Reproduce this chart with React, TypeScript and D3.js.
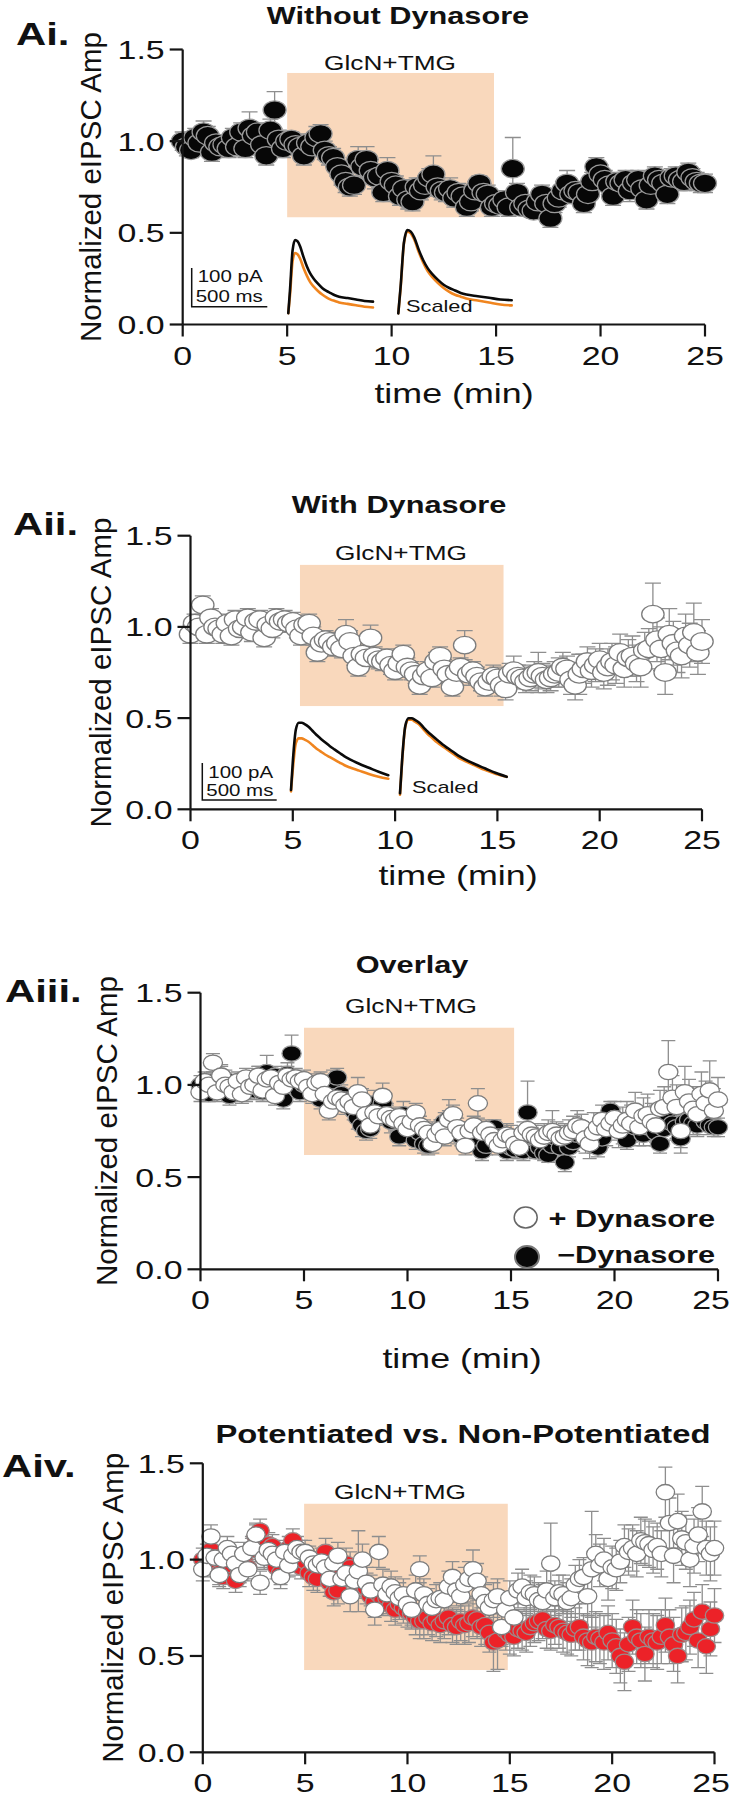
import React from 'react';
import * as d3 from 'd3';

// ---------------- DATA ----------------
// sample times (min), one sample every 0.2 min from 0 to 25
const times: number[] = d3.range(126).map((i) => +(i * 0.2).toFixed(1));

const xTicks = [0, 5, 10, 15, 20, 25];
const yTicks = [0, 0.5, 1.0, 1.5];

// Without Dynasore (black)
const withoutVals = [
  1.00, 0.97, 0.95, 1.02, 0.99, 1.05, 1.03, 0.94, 0.99, 0.97,
  0.98, 0.96, 1.02, 0.97, 1.05, 0.96, 1.07, 1.03, 1.05, 0.98,
  0.92, 1.06, 1.17, 1.01, 0.96, 1.00, 1.01, 0.98, 0.97, 0.92,
  0.99, 0.97, 1.02, 1.04, 0.95, 0.92, 0.91, 0.86, 0.82, 0.78,
  0.75, 0.76, 0.90, 0.86, 0.90, 0.84, 0.80, 0.81, 0.72, 0.84,
  0.78, 0.76, 0.70, 0.74, 0.68, 0.67, 0.75, 0.73, 0.76, 0.80,
  0.82, 0.75, 0.73, 0.72, 0.74, 0.69, 0.72, 0.70, 0.64, 0.67,
  0.73, 0.77, 0.72, 0.71, 0.64, 0.66, 0.65, 0.68, 0.64, 0.85,
  0.72, 0.64, 0.66, 0.63, 0.62, 0.67, 0.71, 0.66, 0.58, 0.66,
  0.69, 0.73, 0.77, 0.71, 0.73, 0.72, 0.66, 0.71, 0.78, 0.86,
  0.82, 0.79, 0.76, 0.70, 0.78, 0.77, 0.79, 0.73, 0.77, 0.79,
  0.74, 0.68, 0.76, 0.81, 0.79, 0.77, 0.71, 0.80, 0.81, 0.79,
  0.78, 0.83, 0.80, 0.78, 0.77, 0.77,
];
const withoutErr = [
  .05, .05, .04, .05, .05, .06, .05, .05, .04, .04,
  .04, .05, .05, .05, .05, .05, .09, .06, .05, .05,
  .05, .06, .10, .05, .05, .05, .04, .05, .05, .05,
  .05, .05, .06, .05, .05, .05, .05, .05, .06, .06,
  .05, .05, .07, .06, .07, .06, .06, .06, .05, .07,
  .05, .05, .05, .05, .05, .05, .05, .05, .05, .05,
  .10, .05, .05, .05, .06, .05, .05, .05, .05, .05,
  .05, .04, .05, .05, .05, .05, .05, .05, .05, .17,
  .05, .04, .05, .04, .04, .05, .05, .05, .05, .05,
  .05, .05, .07, .05, .05, .05, .05, .05, .05, .05,
  .05, .05, .05, .05, .05, .05, .05, .06, .05, .05,
  .05, .05, .06, .05, .05, .06, .05, .05, .05, .06,
  .05, .05, .05, .05, .05, .05,
];

// With Dynasore (white)
const withVals = [
  0.96, 1.02, 1.00, 1.12, 0.96, 1.05, 1.00, 0.99, 0.96, 1.02,
  0.95, 1.04, 0.99, 1.00, 1.05, 0.97, 1.03, 1.04, 0.94, 1.01,
  0.99, 1.05, 1.03, 1.04, 1.02, 1.03, 0.99, 0.95, 1.01, 1.02,
  0.95, 0.86, 0.91, 0.93, 0.92, 0.89, 0.91, 0.88, 0.96, 0.92,
  0.84, 0.78, 0.85, 0.83, 0.94, 0.84, 0.82, 0.81, 0.83, 0.79,
  0.76, 0.80, 0.85, 0.78, 0.76, 0.74, 0.68, 0.73, 0.76, 0.72,
  0.81, 0.84, 0.77, 0.74, 0.67, 0.75, 0.78, 0.90, 0.74, 0.76,
  0.73, 0.70, 0.67, 0.70, 0.73, 0.72, 0.68, 0.66, 0.74, 0.76,
  0.73, 0.72, 0.70, 0.72, 0.74, 0.75, 0.73, 0.71, 0.72, 0.74,
  0.75, 0.78, 0.77, 0.71, 0.68, 0.74, 0.77, 0.81, 0.76, 0.79,
  0.82, 0.75, 0.78, 0.81, 0.79, 0.86, 0.77, 0.83, 0.84, 0.80,
  0.78, 0.87, 0.88, 1.07, 0.93, 0.88, 0.75, 0.96, 0.91, 0.87,
  0.84, 0.95, 0.90, 0.97, 0.86, 0.92,
];
const withErr = [
  .05, .05, .05, .05, .05, .05, .05, .05, .05, .05,
  .05, .05, .05, .05, .05, .05, .05, .05, .05, .05,
  .05, .05, .05, .05, .05, .05, .05, .05, .05, .05,
  .05, .05, .05, .05, .05, .05, .05, .05, .08, .06,
  .05, .05, .05, .05, .07, .05, .05, .05, .05, .05,
  .05, .05, .05, .05, .05, .05, .05, .05, .05, .05,
  .05, .05, .05, .05, .05, .05, .05, .08, .06, .05,
  .05, .05, .05, .05, .06, .06, .06, .06, .06, .08,
  .06, .06, .06, .07, .07, .11, .07, .07, .07, .07,
  .08, .08, .07, .08, .08, .11, .08, .08, .09, .09,
  .09, .09, .10, .10, .10, .10, .10, .10, .11, .10,
  .11, .10, .11, .17, .12, .12, .12, .14, .12, .12,
  .12, .12, .12, .16, .12, .12,
];

// Non-potentiated (red)
const nonPotVals = [
  1.00, 0.97, 1.05, 1.01, 0.93, 0.91, 1.02, 0.97, 0.89, 0.94,
  1.00, 0.96, 1.05, 1.12, 1.15, 1.02, 1.08, 1.07, 0.96, 0.93,
  1.02, 1.06, 1.10, 0.98, 0.96, 0.99, 0.93, 0.91, 0.90, 0.97,
  1.04, 0.88, 0.83, 0.84, 0.93, 0.98, 0.96, 0.92, 0.88, 0.89,
  0.85, 0.81, 0.78, 0.82, 0.79, 0.80, 0.76, 0.74, 0.77, 0.75,
  0.73, 0.72, 0.70, 0.68, 0.68, 0.70, 0.67, 0.69, 0.66, 0.68,
  0.70, 0.66, 0.65, 0.68, 0.66, 0.67, 0.70, 0.69, 0.65, 0.66,
  0.62, 0.57, 0.58, 0.65, 0.63, 0.61, 0.60, 0.64, 0.63, 0.62,
  0.65, 0.67, 0.68, 0.69, 0.64, 0.63, 0.66, 0.65, 0.63, 0.62,
  0.61, 0.64, 0.65, 0.60, 0.58, 0.57, 0.60, 0.59, 0.57, 0.62,
  0.58, 0.55, 0.50, 0.47, 0.56, 0.65, 0.60, 0.58, 0.51, 0.60,
  0.58, 0.57, 0.60, 0.66, 0.60, 0.56, 0.50, 0.61, 0.62, 0.65,
  0.69, 0.58, 0.73, 0.55, 0.64, 0.71,
];
const nonPotErr = [
  .06, .06, .06, .06, .06, .06, .06, .06, .06, .06,
  .06, .06, .06, .06, .06, .06, .06, .06, .06, .06,
  .06, .06, .06, .06, .06, .06, .07, .07, .07, .07,
  .07, .07, .07, .07, .07, .08, .08, .08, .08, .08,
  .08, .08, .08, .08, .08, .08, .08, .08, .08, .08,
  .08, .08, .09, .09, .09, .09, .09, .09, .09, .09,
  .09, .09, .09, .10, .10, .10, .10, .10, .10, .10,
  .10, .15, .15, .10, .10, .10, .10, .10, .10, .10,
  .10, .10, .10, .10, .10, .10, .10, .11, .11, .11,
  .11, .11, .12, .12, .13, .13, .13, .13, .14, .14,
  .14, .14, .14, .15, .14, .14, .14, .14, .14, .14,
  .14, .14, .14, .14, .14, .14, .14, .14, .14, .14,
  .14, .14, .14, .14, .14, .14,
];

// Potentiated (white)
const potVals = [
  0.95, 1.02, 1.12, 1.01, 0.92, 1.00, 1.06, 1.03, 0.98, 0.92,
  1.03, 0.95, 1.06, 1.13, 0.88, 1.01, 1.05, 1.03, 1.00, 0.91,
  1.04, 0.97, 1.02, 1.06, 1.04, 1.04, 1.01, 0.98, 0.97, 0.99,
  0.96, 0.90, 0.98, 1.02, 0.90, 0.93, 0.81, 0.89, 0.94, 1.00,
  0.88, 0.84, 0.74, 1.04, 0.87, 0.82, 0.86, 0.83, 0.80, 0.82,
  0.77, 0.74, 0.84, 0.95, 0.82, 0.77, 0.75, 0.79, 0.80, 0.79,
  0.86, 0.91, 0.84, 0.81, 0.87, 0.90, 0.95, 0.89, 0.82, 0.78,
  0.75, 0.79, 0.81, 0.65, 0.74, 0.80, 0.70, 0.84, 0.86, 0.80,
  0.83, 0.82, 0.79, 0.78, 0.84, 0.98, 0.80, 0.83, 0.82, 0.78,
  0.80, 0.87, 0.90, 0.91, 0.81, 0.95, 1.03, 0.97, 1.00, 0.90,
  0.96, 0.95, 0.99, 1.07, 1.04, 1.06, 1.03, 1.10, 1.09, 1.08,
  1.05, 1.07, 1.03, 1.35, 1.19, 1.02, 1.20, 1.11, 1.09, 1.00,
  1.07, 1.13, 1.25, 1.06, 1.03, 1.06,
];
const potErr = [
  .06, .06, .06, .06, .06, .06, .06, .06, .06, .06,
  .06, .06, .06, .06, .06, .06, .06, .06, .06, .06,
  .06, .06, .06, .06, .06, .06, .06, .06, .07, .07,
  .07, .07, .07, .07, .07, .07, .08, .08, .21, .08,
  .08, .08, .08, .08, .08, .08, .08, .08, .08, .08,
  .08, .08, .08, .07, .08, .08, .08, .08, .08, .08,
  .08, .08, .08, .08, .09, .09, .10, .09, .09, .09,
  .09, .09, .09, .09, .09, .09, .09, .09, .09, .09,
  .09, .09, .09, .09, .10, .21, .09, .09, .10, .10,
  .10, .10, .10, .10, .10, .30, .10, .11, .11, .11,
  .11, .11, .11, .11, .12, .12, .12, .12, .12, .12,
  .12, .12, .12, .13, .13, .14, .14, .14, .14, .14,
  .14, .14, .13, .14, .14, .14,
];

// Example eIPSC traces (normalized amplitude vs. normalized sweep time)
const traceFrac = [0, 0.02, 0.05, 0.08, 0.11, 0.14, 0.18, 0.22, 0.26, 0.30, 0.35, 0.40, 0.45, 0.50, 0.55, 0.60, 0.70, 0.80, 0.90, 1.0];
const traceAiCtrl = [-0.02, 0.30, 0.85, 1.00, 0.98, 0.91, 0.76, 0.63, 0.53, 0.46, 0.39, 0.33, 0.29, 0.26, 0.23, 0.21, 0.19, 0.17, 0.15, 0.14];
const traceAiDrug = [0.00, 0.25, 0.72, 0.84, 0.82, 0.76, 0.63, 0.52, 0.43, 0.37, 0.31, 0.26, 0.22, 0.19, 0.17, 0.15, 0.13, 0.11, 0.09, 0.08];
const traceAiiCtrl = [0.00, 0.45, 0.90, 1.00, 1.00, 0.98, 0.94, 0.88, 0.82, 0.77, 0.71, 0.65, 0.60, 0.55, 0.50, 0.46, 0.39, 0.33, 0.27, 0.22];
const traceAiiDrug = [0.00, 0.35, 0.72, 0.79, 0.79, 0.77, 0.74, 0.69, 0.64, 0.60, 0.55, 0.51, 0.47, 0.43, 0.39, 0.36, 0.31, 0.26, 0.22, 0.19];

// ---------------- STYLE / LAYOUT ----------------
const FONT = "'Liberation Sans', Arial, Helvetica, sans-serif";
const SX = 1.28; // horizontal stretch of the original figure
const PEACH = '#F9D8BC';
const ORANGE = '#F0851F';

type Series = { vals: number[]; err: number[]; fill: string; stroke: string };
type Trace = { x0: number; x1: number; base: number; amp: number; ctrl: number[]; drug: number[]; scaled: boolean };

interface PanelCfg {
  label: string; labelX: number; labelY: number;
  title: string; titleX: number; titleY: number; titleSize: number;
  x0: number; x1: number; yb: number; yt: number;
  rect: [number, number, number, number];
  glcnX: number; glcnY: number;
  xlabel: boolean; xlabelX: number; xlabelY: number;
  ylabelX: number;
  rx: number; ry: number; cap: number;
  series: Series[];
  traces: Trace[];
  scalebar?: { x: number; top: number; bottom: number; right: number; t1y: number; t2y: number };
  scaledLabel?: { x: number; y: number };
  legend?: boolean;
  maxLabelX: number;
}

const BLACK: Omit<Series, 'vals' | 'err'> = { fill: '#070707', stroke: '#9a9a9a' };
const WHITE: Omit<Series, 'vals' | 'err'> = { fill: '#ffffff', stroke: '#7c7c7c' };
const RED: Omit<Series, 'vals' | 'err'> = { fill: '#EC2228', stroke: '#9c8a8a' };

const panels: PanelCfg[] = [
  {
    label: 'Ai.', labelX: 16, labelY: 45,
    title: 'Without Dynasore', titleX: 398, titleY: 24, titleSize: 24,
    x0: 182.7, x1: 705, yb: 324.5, yt: 49.5,
    rect: [5.0, 14.9, 0.585, 1.372],
    glcnX: 390, glcnY: 70,
    xlabel: true, xlabelX: 454, xlabelY: 403,
    ylabelX: 101,
    rx: 11.5, ry: 9.2, cap: 8,
    series: [{ vals: withoutVals, err: withoutErr, ...BLACK }],
    traces: [
      { x0: 288.3, x1: 373, base: 311.7, amp: 71.7, ctrl: traceAiCtrl, drug: traceAiDrug, scaled: false },
      { x0: 398.3, x1: 511.7, base: 311.7, amp: 81.7, ctrl: traceAiCtrl, drug: traceAiDrug, scaled: true },
    ],
    scalebar: { x: 191.7, top: 268, bottom: 306.7, right: 267.3, t1y: 282, t2y: 302 },
    scaledLabel: { x: 406, y: 312 },
    maxLabelX: 712,
  },
  {
    label: 'Aii.', labelX: 13, labelY: 535,
    title: 'With Dynasore', titleX: 399, titleY: 513, titleSize: 24,
    x0: 190.5, x1: 702, yb: 809.3, yt: 535.7,
    rect: [5.35, 15.3, 0.566, 1.34],
    glcnX: 401, glcnY: 560,
    xlabel: true, xlabelX: 458, xlabelY: 885,
    ylabelX: 111,
    rx: 11.2, ry: 8.8, cap: 8,
    series: [{ vals: withVals, err: withErr, ...WHITE }],
    traces: [
      { x0: 291, x1: 388.3, base: 790, amp: 67.3, ctrl: traceAiiCtrl, drug: traceAiiDrug, scaled: false },
      { x0: 400, x1: 506.7, base: 793.3, amp: 75, ctrl: traceAiiCtrl, drug: traceAiiDrug, scaled: true },
    ],
    scalebar: { x: 202.3, top: 763, bottom: 800, right: 276.7, t1y: 778, t2y: 796 },
    scaledLabel: { x: 412, y: 793 },
    maxLabelX: 712,
  },
  {
    label: 'Aiii.', labelX: 5, labelY: 1002,
    title: 'Overlay', titleX: 412, titleY: 973, titleSize: 24,
    x0: 200.5, x1: 718, yb: 1269.3, yt: 992.7,
    rect: [5.0, 15.15, 0.62, 1.31],
    glcnX: 411, glcnY: 1013,
    xlabel: true, xlabelX: 462, xlabelY: 1368,
    ylabelX: 117,
    rx: 9.6, ry: 7.7, cap: 7,
    series: [
      { vals: withoutVals, err: withoutErr, ...BLACK },
      { vals: withVals, err: withErr, ...WHITE },
    ],
    traces: [],
    legend: true,
    maxLabelX: 711,
  },
  {
    label: 'Aiv.', labelX: 2, labelY: 1477,
    title: 'Potentiated vs. Non-Potentiated', titleX: 463, titleY: 1443, titleSize: 25.6,
    x0: 202.8, x1: 714.5, yb: 1752.3, yt: 1463.3,
    rect: [4.95, 14.9, 0.427, 1.29],
    glcnX: 400, glcnY: 1499,
    xlabel: false, xlabelX: 0, xlabelY: 0,
    ylabelX: 123,
    rx: 9.2, ry: 7.7, cap: 7,
    series: [
      { vals: nonPotVals, err: nonPotErr, ...RED },
      { vals: potVals, err: potErr, ...WHITE },
    ],
    traces: [],
    maxLabelX: 711,
  },
];

// ---------------- COMPONENTS ----------------
function T(props: { x: number; y: number; size: number; anchor?: string; weight?: string | number; children: React.ReactNode; sx?: number }) {
  const { x, y, size, anchor = 'start', weight = 'normal', children, sx = SX } = props;
  return (
    <text
      transform={`translate(${x},${y}) scale(${sx},1)`}
      fontSize={size}
      textAnchor={anchor as any}
      fontWeight={weight as any}
      fontFamily={FONT}
      fill="#111"
    >
      {children}
    </text>
  );
}

function TracePlot({ tr }: { tr: Trace }) {
  const tx = d3.scaleLinear().domain([0, 1]).range([tr.x0, tr.x1]);
  const ty = d3.scaleLinear().domain([0, 1]).range([tr.base, tr.base - tr.amp]);
  const norm = tr.scaled ? (d3.max(tr.drug) as number) : 1;
  const gen = d3
    .line<number>()
    .x((_, i) => tx(traceFrac[i]))
    .y((v) => ty(v))
    .curve(d3.curveMonotoneX);
  const drug = tr.drug.map((v) => v / norm);
  return (
    <g fill="none" strokeLinejoin="round" strokeLinecap="round">
      <path d={gen(drug) || ''} stroke={ORANGE} strokeWidth={2.6} transform="translate(0,1.5)" />
      <path d={gen(tr.ctrl) || ''} stroke="#0a0a0a" strokeWidth={2.6} />
    </g>
  );
}

function Panel({ p }: { p: PanelCfg }) {
  const x = d3.scaleLinear().domain([0, 25]).range([p.x0, p.x1]);
  const y = d3.scaleLinear().domain([0, 1.5]).range([p.yb, p.yt]);
  const fmt = d3.format('.1f');
  return (
    <g>
      {/* treatment window */}
      <rect
        x={x(p.rect[0])}
        y={y(p.rect[3])}
        width={x(p.rect[1]) - x(p.rect[0])}
        height={y(p.rect[2]) - y(p.rect[3])}
        fill={PEACH}
      />
      <T x={p.glcnX} y={p.glcnY} size={20.5} anchor="middle">GlcN+TMG</T>

      {/* traces */}
      {p.traces.map((tr, i) => (
        <TracePlot key={i} tr={tr} />
      ))}
      {p.scalebar && (
        <g>
          <path
            d={`M${p.scalebar.x},${p.scalebar.top}V${p.scalebar.bottom}H${p.scalebar.right}`}
            fill="none"
            stroke="#111"
            strokeWidth={1.5}
          />
          <T x={p.scalebar.x + 6} y={p.scalebar.t1y} size={16}>100 pA</T>
          <T x={p.scalebar.x + 4} y={p.scalebar.t2y} size={16}>500 ms</T>
        </g>
      )}
      {p.scaledLabel && (
        <T x={p.scaledLabel.x} y={p.scaledLabel.y} size={17}>Scaled</T>
      )}

      {/* error bars */}
      {p.series.map((s, si) => (
        <g key={'e' + si} stroke="#8e8e8e" strokeWidth={1.3} fill="none">
          {s.vals.map((v, i) => {
            const cx = x(times[i]);
            const yl = y(v - s.err[i]);
            const yh = y(v + s.err[i]);
            return (
              <path
                key={i}
                d={`M${cx},${yl}V${yh}M${cx - p.cap},${yh}H${cx + p.cap}M${cx - p.cap},${yl}H${cx + p.cap}`}
              />
            );
          })}
        </g>
      ))}
      {/* markers */}
      {p.series.map((s, si) => (
        <g key={'m' + si}>
          {s.vals.map((v, i) => (
            <ellipse
              key={i}
              cx={x(times[i])}
              cy={y(v)}
              rx={p.rx}
              ry={p.ry}
              fill={s.fill}
              stroke={s.stroke}
              strokeWidth={1.3}
            />
          ))}
        </g>
      ))}

      {/* axes */}
      <g stroke="#151515" strokeWidth={2.2} fill="none">
        <line x1={p.x0} y1={y(0)} x2={p.x0} y2={y(1.5)} />
        <line x1={p.x0} y1={y(0)} x2={p.x1} y2={y(0)} />
        {yTicks.map((t) => (
          <line key={'yt' + t} x1={p.x0 - 13} x2={p.x0} y1={y(t)} y2={y(t)} />
        ))}
        {xTicks.map((t) => (
          <line key={'xt' + t} x1={x(t)} x2={x(t)} y1={y(0)} y2={y(0) + 12} />
        ))}
      </g>
      {yTicks.map((t) => (
        <T key={'yl' + t} x={p.x0 - 18} y={y(t) + 9.5} size={26.5} anchor="end">
          {fmt(t)}
        </T>
      ))}
      {xTicks.map((t) => (
        <T key={'xl' + t} x={Math.min(x(t), p.maxLabelX)} y={y(0) + 40} size={26.5} anchor="middle">
          {t}
        </T>
      ))}
      {p.xlabel && (
        <T x={p.xlabelX} y={p.xlabelY} size={28} anchor="middle">time (min)</T>
      )}
      <text
        transform={`translate(${p.ylabelX},${(y(0) + y(1.5)) / 2}) rotate(-90)`}
        fontSize={29.5}
        textAnchor="middle"
        fontFamily={FONT}
        fill="#111"
      >
        Normalized eIPSC Amp
      </text>

      {/* titles */}
      <T x={p.labelX} y={p.labelY} size={31} weight="bold" sx={1.35}>{p.label}</T>
      <T x={p.titleX} y={p.titleY} size={p.titleSize} weight="bold" anchor="middle">{p.title}</T>

      {p.legend && (
        <g>
          <ellipse cx={525.7} cy={1217.5} rx={11.5} ry={10.5} fill="#fff" stroke="#666" strokeWidth={1.5} />
          <ellipse cx={527} cy={1257} rx={12} ry={11} fill="#080808" stroke="#777" strokeWidth={2} />
          <T x={715} y={1227} size={24} weight="bold" anchor="end">+ Dynasore</T>
          <T x={715} y={1263} size={24} weight="bold" anchor="end">−Dynasore</T>
        </g>
      )}
    </g>
  );
}

export default function App() {
  return (
    <svg
      width={732}
      height={1800}
      viewBox="0 0 732 1800"
      style={{ position: 'absolute', left: 0, top: 0, background: '#fff' }}
    >
      <rect x={0} y={0} width={732} height={1800} fill="#fff" />
      {panels.map((p, i) => (
        <Panel key={i} p={p} />
      ))}
    </svg>
  );
}
